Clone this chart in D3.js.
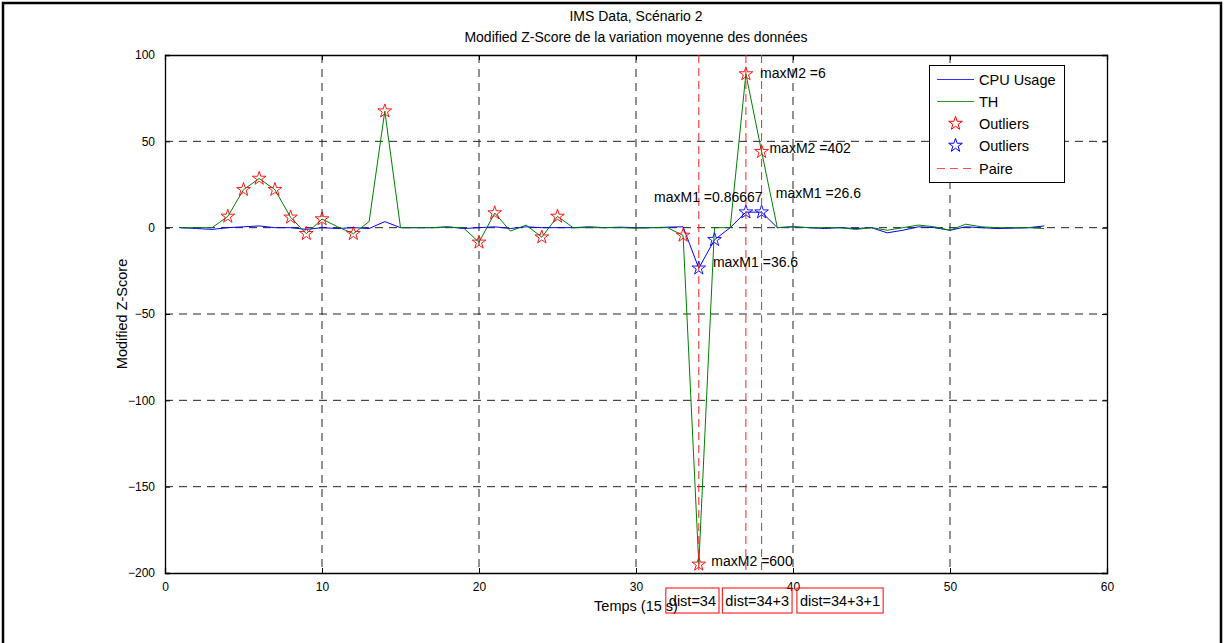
<!DOCTYPE html>
<html><head><meta charset="utf-8">
<script src="https://cdn.jsdelivr.net/npm/d3@7"></script>
<style>body{margin:0;background:#fff} text{font-family:"Liberation Sans",Arial,sans-serif;fill:#000}</style>
</head><body><svg id="c" width="1225" height="643"></svg>
<script>
const time = [1,2,3,4,5,6,7,8,9,10,11,12,13,14,15,16,17,18,19,20,21,22,23,24,25,26,27,28,29,30,31,32,33,34,35,36,37,38,39,40,41,42,43,44,45,46,47,48,49,50,51,52,53,54,55,56];
const cpuUsage = [0,-0.5,-1,0,0.5,1,0,0,-1,0,-0.5,0,-0.5,3.5,0,0,0,0.5,-0.5,0,0.5,-0.5,0.5,0,0,0,0.5,0,0.3,0,0,0.3,0.5,-23.5,-7,0,9,9,0,0.5,0,-0.5,0,-0.5,0,-3,-1.5,0.5,0,-1.5,0.5,0,-0.5,-0.3,0,1];
const th = [0,0,0,6.5,22,28.5,22,6,-3.5,5,0.5,-3.5,3.5,67.5,0,0,0,0.3,0,-8.5,8.5,-2,1.5,-5.5,6.5,0,0,0,0,-0.3,0,0,-4.5,-195,0,0,89,44,0,0.5,0,0,0,-1,0,-1.5,0,1.5,0.5,-1.5,2,0.5,0,0,0,-0.5];
const thOutlierTimes = [4,5,6,7,8,9,10,12,14,20,21,24,25,33,34,37,38];
const cpuOutlierTimes = [34,35,37,38];
const paireTimes = [34,37,38];
const xTicks = [0,10,20,30,40,50,60];
const yTicks = [100,50,0,-50,-100,-150,-200];
const annLabels = ["maxM2 =6","maxM2 =402","maxM1 =0.86667","maxM1 =26.6","maxM1 =36.6","maxM2 =600"];
const annX = [37.9,38.5,31.15,38.9,34.9,34.8];
const annY = [89.7,46.1,18,20.3,-19.7,-193];
const distLabels = ["dist=34","dist=34+3","dist=34+3+1"];
const distX = [31.9,35.5,40.25];
const legendLabels = ["CPU Usage","TH","Outliers","Outliers","Paire"];

const svg = d3.select("#c");
const L=165,R=1107,T=55,B=573;
const x = d3.scaleLinear().domain([0,60]).range([L,R]);
const y = d3.scaleLinear().domain([-200,100]).range([B,T]);

// figure border
svg.append("rect").attr("x",3).attr("y",3).attr("width",1218).attr("height",700)
  .attr("fill","none").attr("stroke","#000").attr("stroke-width",2.5);
svg.append("rect").attr("x",L).attr("y",T).attr("width",R-L).attr("height",B-T).attr("fill","#fff");

// grid
const g = svg.append("g");
g.selectAll(".vg").data(xTicks.filter(d=>d>0&&d<60)).join("line")
  .attr("x1",d=>x(d)).attr("x2",d=>x(d)).attr("y1",T).attr("y2",B)
  .attr("stroke","#222").attr("stroke-dasharray","8,6").attr("stroke-width",1);
g.selectAll(".hg").data(yTicks.filter(d=>d>-200&&d<100)).join("line")
  .attr("y1",d=>y(d)).attr("y2",d=>y(d)).attr("x1",L).attr("x2",R)
  .attr("stroke","#222").attr("stroke-dasharray","8,6").attr("stroke-width",1);

// axes
const ax = svg.append("g").attr("transform",`translate(0,${B})`)
  .call(d3.axisBottom(x).tickValues(xTicks).tickSize(-5).tickPadding(9));
const axT = svg.append("g").attr("transform",`translate(0,${T})`)
  .call(d3.axisTop(x).tickValues(xTicks).tickSize(-5).tickFormat(""));
const ay = svg.append("g").attr("transform",`translate(${L},0)`)
  .call(d3.axisLeft(y).tickValues(yTicks).tickSize(-5).tickPadding(10));
const ayR = svg.append("g").attr("transform",`translate(${R},0)`)
  .call(d3.axisRight(y).tickValues(yTicks).tickSize(-5).tickFormat(""));
[ax,axT,ay,ayR].forEach(a=>{
  a.select(".domain").attr("stroke","#000").attr("stroke-width",1.3);
  a.selectAll(".tick line").attr("stroke","#000");
  a.selectAll("text").style("font-family","Liberation Sans, Arial, sans-serif").style("font-size","12px").attr("fill","#000");
});

// lines
const line = d3.line().x((d,i)=>x(time[i])).y(d=>y(d));
svg.append("path").datum(cpuUsage).attr("d",line).attr("fill","none").attr("stroke","#0000ff").attr("stroke-width",1);
svg.append("path").datum(th).attr("d",line).attr("fill","none").attr("stroke","#008000").attr("stroke-width",1);

// outlier stars
const star = d3.symbol().type(d3.symbolStar).size(58);
svg.selectAll(".rs").data(thOutlierTimes).join("path")
  .attr("d",star).attr("transform",d=>`translate(${x(d)},${y(th[time.indexOf(d)])})`)
  .attr("fill","none").attr("stroke","#ff0000").attr("stroke-width",0.9);
svg.selectAll(".bs").data(cpuOutlierTimes).join("path")
  .attr("d",star).attr("transform",d=>`translate(${x(d)},${y(cpuUsage[time.indexOf(d)])})`)
  .attr("fill","none").attr("stroke","#0000ff").attr("stroke-width",0.9);

// paire lines
svg.selectAll(".pl").data(paireTimes).join("line")
  .attr("x1",d=>x(d)).attr("x2",d=>x(d)).attr("y1",T).attr("y2",B)
  .attr("stroke","#ff2020").attr("stroke-dasharray","8,5").attr("stroke-width",1);

// annotations
svg.selectAll(".an").data(annLabels).join("text")
  .attr("x",(d,i)=>x(annX[i])).attr("y",(d,i)=>y(annY[i])).attr("dy","0.36em")
  .style("font-size","14px").text(d=>d);

// titles
svg.append("text").attr("x",636).attr("y",21).attr("text-anchor","middle").style("font-size","14px").text("IMS Data, Scénario 2");
svg.append("text").attr("x",636).attr("y",42).attr("text-anchor","middle").style("font-size","14px").text("Modified Z-Score de la variation moyenne des données");
svg.append("text").attr("x",636).attr("y",611).attr("text-anchor","middle").style("font-size","14.5px").text("Temps (15 s)");
svg.append("text").attr("transform","translate(127,314) rotate(-90)").attr("text-anchor","middle").style("font-size","14.5px").text("Modified Z-Score");

// dist boxes
distLabels.forEach((lab,i)=>{
  const gx = x(distX[i]);
  const gg = svg.append("g");
  const r = gg.append("rect").attr("y",588).attr("height",25).attr("x",gx).attr("fill","none").attr("stroke","#ff0000").attr("stroke-width",1);
  const t = gg.append("text").attr("x",gx+3).attr("y",606).style("font-size","14.5px").text(lab);
  r.attr("width",t.node().getComputedTextLength()+6);
});

// legend
const lg = svg.append("g");
lg.append("rect").attr("x",929.5).attr("y",65.5).attr("width",135).attr("height",117).attr("fill","#fff").attr("stroke","#000").attr("stroke-width",1);
const ly = [79.5,101.5,123.5,145.5,168.5];
legendLabels.forEach((lab,i)=>{
  lg.append("text").attr("x",979).attr("y",ly[i]).attr("dy","0.36em").style("font-size","14.5px").text(lab);
});
lg.append("line").attr("x1",937).attr("x2",974).attr("y1",ly[0]).attr("y2",ly[0]).attr("stroke","#3030ff").attr("stroke-width",1.2);
lg.append("line").attr("x1",937).attr("x2",974).attr("y1",ly[1]).attr("y2",ly[1]).attr("stroke","#2a9a2a").attr("stroke-width",1.2);
lg.append("path").attr("d",star).attr("transform",`translate(955.5,${ly[2]})`).attr("fill","none").attr("stroke","#ff0000");
lg.append("path").attr("d",star).attr("transform",`translate(955.5,${ly[3]})`).attr("fill","none").attr("stroke","#0000ff");
lg.append("line").attr("x1",937).attr("x2",974).attr("y1",ly[4]).attr("y2",ly[4]).attr("stroke","#ff5050").attr("stroke-width",1.2).attr("stroke-dasharray","8,5");
</script></body></html>
